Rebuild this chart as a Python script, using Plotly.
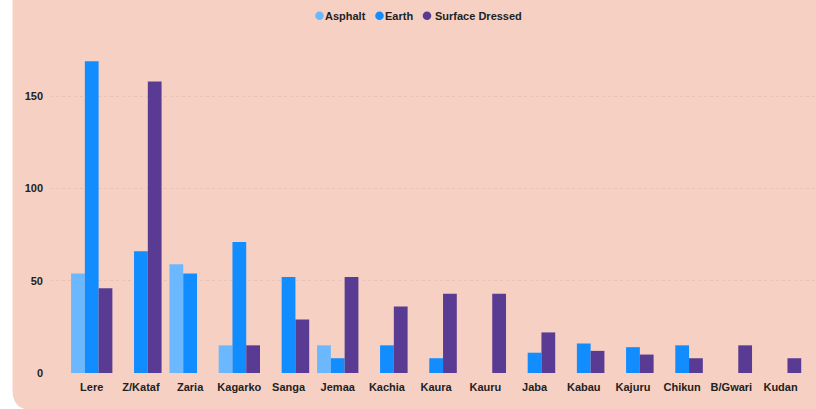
import plotly.graph_objects as go

# Road length by surface type for each LGA
lgas = ["Lere", "Z/Kataf", "Zaria", "Kagarko", "Sanga", "Jemaa", "Kachia", "Kaura",
        "Kauru", "Jaba", "Kabau", "Kajuru", "Chikun", "B/Gwari", "Kudan"]
asphalt = [54, None, 59, 15, None, 15, None, None, None, None, None, None, None, None, None]
earth = [169, 66, 54, 71, 52, 8, 15, 8, None, 11, 16, 14, 15, None, None]
surface_dressed = [46, 158, None, 15, 29, 52, 36, 43, 43, 22, 12, 10, 8, 15, 8]

series_names = ["Asphalt", "Earth", "Surface Dressed"]
series_colors = ["#6CB8FF", "#118DFF", "#5A3B94"]
y_ticks = [0, 50, 100, 150]

W, H = 816, 409
ML, MR, MT, MB = 50, 0, 41, 36
PW, PH = W - ML - MR, H - MT - MB

BG = "#F6D1C3"
TEXT = "#222222"
FONT = "Liberation Sans, Arial, sans-serif"


def px(x):
    return (x - ML) / PW


def py(y):
    return (H - MB - y) / PH


fig = go.Figure()
for name, vals, col in zip(series_names, [asphalt, earth, surface_dressed], series_colors):
    fig.add_trace(go.Bar(x=lgas, y=vals, name=name, marker=dict(color=col, line=dict(width=0)),
                         showlegend=False))

# Card background with a rounded lower-left corner
card = (f"M {px(12.5)},{py(-20)} L {px(12.5)},{py(390)} "
        f"Q {px(12.5)},{py(410)} {px(32.5)},{py(410)} "
        f"L {px(840)},{py(410)} L {px(840)},{py(-20)} Z")
shapes = [dict(type="path", path=card, xref="paper", yref="paper",
               fillcolor=BG, line=dict(width=0), layer="below")]

# Legend: round swatches followed by labels
annotations = []
legend_items = [(319.5, 322.5), (379.5, 383.0), (427.0, 432.5)]
for (cx, tx), name, col in zip(legend_items, series_names, series_colors):
    r = 4.3
    shapes.append(dict(type="circle", xref="paper", yref="paper",
                       x0=px(cx - r), x1=px(cx + r), y0=py(15.7 + r), y1=py(15.7 - r),
                       fillcolor=col, line=dict(width=0), layer="above"))
    annotations.append(dict(text=f"<b>{name}</b>", x=px(tx), y=py(16), xref="paper", yref="paper",
                            xanchor="left", yanchor="middle", showarrow=False,
                            font=dict(family=FONT, size=11, color=TEXT)))

fig.update_layout(
    width=W, height=H,
    margin=dict(l=ML, r=MR, t=MT, b=MB, pad=0),
    paper_bgcolor="white",
    plot_bgcolor="rgba(0,0,0,0)",
    barmode="group", bargap=0.16, bargroupgap=0,
    shapes=shapes, annotations=annotations,
    showlegend=False,
    font=dict(family=FONT, size=11, color=TEXT),
)
fig.update_xaxes(range=[-0.848, 14.72], showgrid=False, zeroline=False, showline=False,
                 ticks="", ticklabelstandoff=6,
                 tickfont=dict(family=FONT, size=11, color=TEXT),
                 tickvals=lgas, ticktext=[f"<b>{c}</b>" for c in lgas])
fig.update_yaxes(range=[0, 180], tickvals=y_ticks, ticktext=[f"<b>{v}</b>" for v in y_ticks],
                 showgrid=True, gridcolor="#E6C3B6", griddash="dot", gridwidth=1,
                 zeroline=False, showline=False, ticks="", ticklabelstandoff=6,
                 tickfont=dict(family=FONT, size=11, color=TEXT))

fig.write_html("out.html")
